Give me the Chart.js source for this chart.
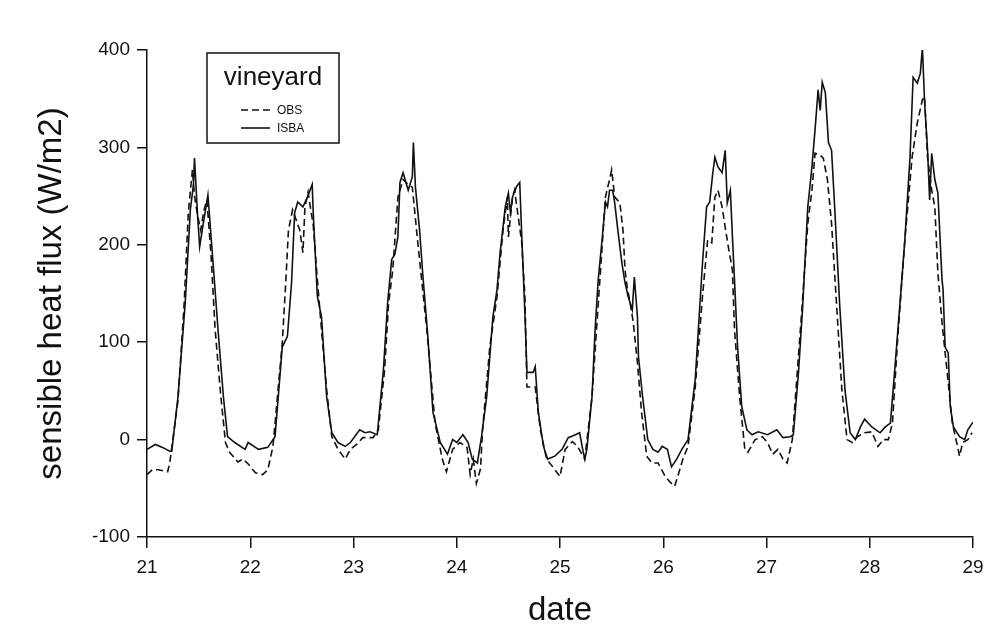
<!DOCTYPE html>
<html lang="en">
<head>
  <meta charset="UTF-8">
  <title>Sensible heat flux - vineyard</title>
  <style>
    body {
      margin: 0;
      padding: 0;
      background-color: #fff;
    }
    #fluxChart {
      display: block;
    }
  </style>
</head>
<body>
  <canvas id="fluxChart" width="987" height="642"></canvas>

  <script src="https://cdn.jsdelivr.net/npm/chart.js"></script>
  <script>
    // Observed flux (OBS), time in days
    const obsTime = [
      21.00, 21.05, 21.11, 21.20, 21.22, 21.30, 21.36, 21.40, 21.44, 21.46, 21.49, 21.52, 21.55, 21.58, 21.62, 21.66,
      21.71, 21.76, 21.80, 21.88, 21.93, 21.98, 22.05, 22.12, 22.17, 22.22, 22.31, 22.34, 22.37, 22.41, 22.48, 22.51,
      22.53, 22.56, 22.61, 22.65, 22.69, 22.74, 22.79, 22.85, 22.92, 22.97, 23.03, 23.09, 23.19, 23.24, 23.30, 23.34,
      23.38, 23.43, 23.48, 23.53, 23.57, 23.62, 23.71, 23.79, 23.86, 23.90, 23.96, 24.03, 24.10, 24.13, 24.16, 24.19,
      24.23, 24.25, 24.32, 24.39, 24.45, 24.49, 24.50, 24.54, 24.56, 24.63, 24.66, 24.68, 24.76, 24.81, 24.87, 24.93,
      25.00, 25.05, 25.12, 25.17, 25.24, 25.31, 25.44, 25.48, 25.50, 25.53, 25.58, 25.61, 25.63, 25.65, 25.68, 25.71,
      25.75, 25.79, 25.84, 25.89, 25.95, 26.02, 26.07, 26.11, 26.14, 26.19, 26.24, 26.31, 26.38, 26.43, 26.47, 26.50,
      26.53, 26.57, 26.60, 26.63, 26.67, 26.69, 26.74, 26.79, 26.82, 26.89, 26.96, 27.01, 27.06, 27.11, 27.16, 27.20,
      27.25, 27.34, 27.40, 27.44, 27.47, 27.52, 27.55, 27.59, 27.63, 27.68, 27.73, 27.78, 27.83, 27.88, 27.95, 28.02,
      28.08, 28.13, 28.18, 28.22, 28.27, 28.34, 28.41, 28.46, 28.51, 28.53, 28.56, 28.60, 28.63, 28.66, 28.70, 28.75,
      28.80, 28.85, 28.87, 28.90, 28.95, 28.99
    ];
    const obsFlux = [
      -36, -31, -31, -33, -24, 40, 140, 233, 277, 250, 230, 215, 235, 246, 190, 113,
      50, -3, -13, -23, -20, -25, -34, -36, -31, -7, 99, 154, 215, 236, 215, 192,
      239, 254, 220, 164, 113, 51, 3, -10, -20, -10, -5, 2, 2, 10, 70, 140,
      174, 249, 267, 262, 259, 205, 113, 17, -20, -33, -10, -3, -8, -36, -20, -45,
      -30, 10, 95, 147, 217, 249, 208, 249, 256, 202, 147, 54, 54, 10, -20, -28,
      -38, -10, -2, -7, -20, 44, 249, 267, 277, 249, 243, 215, 174, 157, 140, 120,
      79, 28, -17, -24, -24, -38, -44, -48, -38, -20, -7, 54, 147, 205, 202, 249,
      256, 239, 218, 198, 174, 113, 44, -10, -13, 0, 3, -3, -15, -10, -20, -24,
      0, 130, 222, 256, 294, 292, 289, 267, 222, 136, 51, 0, -3, 3, 7, 8,
      -7, 0, 0, 17, 103, 205, 290, 325, 349, 352, 290, 256, 239, 171, 120, 69,
      17, -7, -17, -3, 0, 7
    ];

    // ISBA model flux, time in days
    const isbaTime = [
      21.00, 21.08, 21.15, 21.22, 21.24, 21.30, 21.37, 21.42, 21.45, 21.46, 21.49, 21.51, 21.55, 21.59, 21.64, 21.69,
      21.74, 21.78, 21.85, 21.95, 21.98, 22.08, 22.17, 22.24, 22.31, 22.36, 22.40, 22.43, 22.46, 22.51, 22.55, 22.60,
      22.61, 22.65, 22.69, 22.74, 22.79, 22.85, 22.92, 22.97, 23.06, 23.11, 23.16, 23.23, 23.29, 23.33, 23.37, 23.40,
      23.43, 23.45, 23.48, 23.53, 23.57, 23.58, 23.60, 23.64, 23.67, 23.72, 23.77, 23.84, 23.91, 23.96, 24.00, 24.06,
      24.11, 24.15, 24.20, 24.24, 24.29, 24.35, 24.39, 24.42, 24.47, 24.50, 24.52, 24.54, 24.58, 24.61, 24.63, 24.66,
      24.68, 24.74, 24.76, 24.79, 24.84, 24.88, 24.95, 25.02, 25.08, 25.15, 25.19, 25.22, 25.24, 25.26, 25.31, 25.34,
      25.37, 25.41, 25.44, 25.46, 25.48, 25.51, 25.53, 25.56, 25.60, 25.63, 25.66, 25.70, 25.72, 25.75, 25.76, 25.80,
      25.85, 25.90, 25.95, 25.99, 26.04, 26.08, 26.13, 26.18, 26.24, 26.31, 26.34, 26.38, 26.42, 26.45, 26.48, 26.50,
      26.53, 26.57, 26.60, 26.62, 26.65, 26.67, 26.69, 26.72, 26.76, 26.81, 26.86, 26.92, 27.01, 27.10, 27.16, 27.23,
      27.26, 27.31, 27.35, 27.40, 27.44, 27.47, 27.50, 27.52, 27.54, 27.57, 27.60, 27.63, 27.66, 27.71, 27.76, 27.81,
      27.86, 27.91, 27.95, 28.02, 28.10, 28.15, 28.20, 28.24, 28.29, 28.34, 28.39, 28.42, 28.46, 28.49, 28.51, 28.53,
      28.56, 28.58, 28.60, 28.63, 28.66, 28.70, 28.71, 28.73, 28.76, 28.78, 28.81, 28.87, 28.92, 28.95, 29.00
    ];
    const isbaFlux = [
      -10, -5, -8, -12, -12, 44, 140, 236, 262, 289, 230, 198, 225, 251, 181, 110,
      44, 3, -3, -10, -3, -10, -8, 3, 95, 106, 161, 233, 244, 239, 248, 262,
      233, 147, 126, 44, 7, -3, -7, -3, 10, 7, 8, 5, 72, 140, 185, 190,
      208, 264, 274, 256, 270, 305, 259, 215, 171, 106, 28, -3, -15, 0, -3, 5,
      -3, -20, -24, 3, 44, 126, 154, 192, 239, 253, 233, 249, 260, 264, 208, 130,
      69, 69, 75, 28, -7, -20, -17, -10, 2, 5, 7, -10, -20, -10, 44, 113,
      164, 208, 244, 239, 256, 256, 243, 215, 181, 161, 147, 133, 167, 126, 85, 44,
      0, -10, -13, -7, -10, -28, -20, -10, 0, 62, 113, 181, 239, 244, 274, 290,
      280, 274, 297, 243, 256, 208, 164, 95, 34, 10, 5, 8, 5, 10, 2, 3,
      5, 69, 136, 239, 280, 318, 359, 338, 367, 356, 305, 297, 239, 136, 51, 7,
      0, 13, 21, 13, 7, 13, 17, 69, 136, 205, 290, 372, 366, 376, 403, 349,
      297, 246, 294, 267, 253, 164, 154, 95, 89, 34, 13, 3, 0, 10, 18
    ];

    const legendTitle = 'vineyard';
    const xTitle = 'date';
    const yTitle = 'sensible heat flux (W/m2)';

    const FONT = "'Liberation Sans', Arial, Helvetica, sans-serif";

    function toPoints(times, values) {
      return times.map((t, i) => ({ x: t, y: values[i] }));
    }

    // boxed legend inside the plot, upper left
    const boxLegend = {
      id: 'boxLegend',
      afterDraw(chart) {
        const ctx = chart.ctx;
        const left = 207, top = 53, w = 132, h = 90;
        ctx.save();
        ctx.strokeStyle = '#111';
        ctx.lineWidth = 1.5;
        ctx.strokeRect(left, top, w, h);

        ctx.fillStyle = '#111';
        ctx.font = '26px ' + FONT;
        ctx.textAlign = 'center';
        ctx.textBaseline = 'middle';
        ctx.fillText(legendTitle, left + w / 2, top + 25);

        ctx.font = '12px ' + FONT;
        ctx.textAlign = 'left';
        chart.data.datasets.forEach((ds, i) => {
          const y = top + 57 + i * 18;
          ctx.beginPath();
          ctx.setLineDash(ds.borderDash || []);
          ctx.lineWidth = 1.6;
          ctx.moveTo(left + 34, y);
          ctx.lineTo(left + 63, y);
          ctx.stroke();
          ctx.setLineDash([]);
          ctx.fillText(ds.label, left + 70, y + 1);
        });
        ctx.restore();
      }
    };

    const ctx = document.getElementById('fluxChart').getContext('2d');
    new Chart(ctx, {
      type: 'line',
      data: {
        datasets: [
          {
            label: 'OBS',
            data: toPoints(obsTime, obsFlux),
            borderColor: '#111',
            borderWidth: 1.6,
            borderDash: [7, 4],
            pointRadius: 0,
            tension: 0,
            fill: false
          },
          {
            label: 'ISBA',
            data: toPoints(isbaTime, isbaFlux),
            borderColor: '#111',
            borderWidth: 1.6,
            pointRadius: 0,
            tension: 0,
            fill: false
          }
        ]
      },
      options: {
        responsive: false,
        animation: false,
        layout: {
          padding: { left: 20, top: 50, right: 14, bottom: 0 }
        },
        plugins: {
          legend: { display: false },
          tooltip: { enabled: false }
        },
        scales: {
          x: {
            type: 'linear',
            min: 21,
            max: 29,
            afterFit(scale) {
              scale.height = 105;
              scale.paddingRight = 0;
            },
            ticks: {
              stepSize: 1,
              padding: 8,
              color: '#111',
              font: { family: FONT, size: 19 }
            },
            grid: {
              drawOnChartArea: false,
              drawTicks: true,
              tickLength: 11,
              color: '#111',
              lineWidth: 1.5
            },
            border: { color: '#111', width: 1.5 },
            title: {
              display: true,
              text: xTitle,
              color: '#111',
              padding: { top: 0, bottom: 11 },
              font: { family: FONT, size: 33 }
            }
          },
          y: {
            min: -100,
            max: 400,
            afterFit(scale) { scale.width = 127; },
            ticks: {
              stepSize: 100,
              padding: 7,
              color: '#111',
              font: { family: FONT, size: 19 }
            },
            grid: {
              drawOnChartArea: false,
              drawTicks: true,
              tickLength: 10,
              color: '#111',
              lineWidth: 1.5
            },
            border: { color: '#111', width: 1.5 },
            title: {
              display: true,
              text: yTitle,
              color: '#111',
              padding: { top: 12, bottom: 0 },
              font: { family: FONT, size: 33 }
            }
          }
        }
      },
      plugins: [boxLegend]
    });
  </script>
</body>
</html>
